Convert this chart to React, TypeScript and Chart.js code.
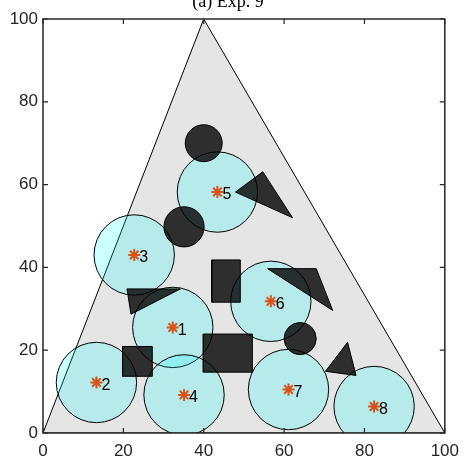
import React, { useEffect, useRef } from "react";
import { Chart, registerables } from "chart.js";

Chart.register(...registerables);

// ---- data ----
const TITLE = "(a) Exp. 9";
const X_TICKS = [0, 20, 40, 60, 80, 100];
const Y_TICKS = [0, 20, 40, 60, 80, 100];

const REGION_X = [0, 100, 40, 0];
const REGION_Y = [0, 0, 100, 0];

const AGENT_IDS = ["1", "2", "3", "4", "5", "6", "7", "8"];
const AGENT_X = [32.3, 13.3, 22.7, 35.1, 43.4, 56.7, 61.1, 82.4];
const AGENT_Y = [25.5, 12.2, 43.0, 9.2, 58.2, 31.8, 10.5, 6.4];
const AGENT_R = [10, 10, 10, 10, 10, 10, 10, 10];

const OBS_CIRCLE_X = [40.0, 35.1, 64.0];
const OBS_CIRCLE_Y = [70.0, 49.8, 22.8];
const OBS_CIRCLE_R = [4.6, 5.0, 4.0];

const RECT_A_X = [42.0, 49.1, 49.1, 42.0, 42.0];
const RECT_A_Y = [31.6, 31.6, 41.8, 41.8, 31.6];
const RECT_B_X = [39.9, 52.1, 52.1, 39.9, 39.9];
const RECT_B_Y = [14.7, 14.7, 23.9, 23.9, 14.7];
const RECT_C_X = [19.8, 27.2, 27.2, 19.8, 19.8];
const RECT_C_Y = [13.7, 13.7, 20.9, 20.9, 13.7];

const TRI_A_X = [47.9, 54.7, 62.1, 47.9];
const TRI_A_Y = [58.2, 63.1, 52.0, 58.2];
const TRI_B_X = [55.9, 68.0, 72.1, 55.9];
const TRI_B_Y = [39.7, 39.7, 29.6, 39.7];
const TRI_C_X = [20.9, 34.2, 21.9, 20.9];
const TRI_C_Y = [34.8, 34.8, 28.7, 34.8];
const TRI_D_X = [70.3, 75.8, 77.9, 70.3];
const TRI_D_Y = [14.9, 21.9, 13.9, 14.9];

// ---- styles ----
const AXIS_COLOR = "#262626";
const REGION_FILL = "#e5e5e5";
const AGENT_FILL = "rgba(0,255,255,0.2)";
const OBS_FILL = "rgba(0,0,0,0.8)";
const STAR_COLOR = "#D95319";

const pts = (xs: number[], ys: number[]) => xs.map((x, i) => ({ x, y: ys[i] }));

const polygon = (xs: number[], ys: number[], fillColor: string, order: number) => ({
  type: "line" as const,
  data: pts(xs, ys),
  fill: "shape",
  backgroundColor: fillColor,
  borderColor: "#000",
  borderWidth: 1,
  borderJoinStyle: "miter",
  pointRadius: 0,
  tension: 0,
  order,
  clip: 0,
});

const framePlugin = {
  id: "frame",
  afterDraw(chart: any) {
    const { ctx, chartArea: a, scales } = chart;
    ctx.save();
    ctx.strokeStyle = AXIS_COLOR;
    ctx.lineWidth = 1.5;
    ctx.strokeRect(a.left, a.top, a.right - a.left, a.bottom - a.top);
    const tl = 5;
    ctx.lineWidth = 1.2;
    ctx.beginPath();
    scales.x.ticks.forEach((t: any) => {
      const px = scales.x.getPixelForValue(t.value);
      ctx.moveTo(px, a.bottom);
      ctx.lineTo(px, a.bottom - tl);
      ctx.moveTo(px, a.top);
      ctx.lineTo(px, a.top + tl);
    });
    scales.y.ticks.forEach((t: any) => {
      const py = scales.y.getPixelForValue(t.value);
      ctx.moveTo(a.left, py);
      ctx.lineTo(a.left + tl, py);
      ctx.moveTo(a.right, py);
      ctx.lineTo(a.right - tl, py);
    });
    ctx.stroke();
    ctx.fillStyle = "#000";
    ctx.font = '18px "Liberation Serif", "Times New Roman", serif';
    ctx.textAlign = "center";
    ctx.textBaseline = "alphabetic";
    ctx.fillText(TITLE, 228, 7);
    ctx.restore();
  },
};

const labelPlugin = {
  id: "agentLabels",
  afterDatasetsDraw(chart: any) {
    const { ctx, scales } = chart;
    ctx.save();
    ctx.fillStyle = "#000";
    ctx.font = '16px "Liberation Sans", Arial, sans-serif';
    ctx.textAlign = "left";
    ctx.textBaseline = "middle";
    AGENT_IDS.forEach((id, i) => {
      const px = scales.x.getPixelForValue(AGENT_X[i]);
      const py = scales.y.getPixelForValue(AGENT_Y[i]);
      ctx.fillText(id, px + 5, py + 3);
    });
    ctx.restore();
  },
};

export default function App() {
  const ref = useRef<HTMLCanvasElement | null>(null);

  useEffect(() => {
    if (!ref.current) return;
    const tickFont = { family: '"Liberation Sans", Arial, sans-serif', size: 17 };
    const chart = new Chart(ref.current, {
      type: "scatter",
      data: {
        datasets: [
          {
            type: "scatter",
            data: pts(AGENT_X, AGENT_Y),
            pointStyle: "star",
            pointRadius: 6,
            borderWidth: 2,
            borderColor: STAR_COLOR,
            backgroundColor: STAR_COLOR,
            order: 0,
            clip: 0,
          } as any,
          {
            type: "bubble",
            data: pts(OBS_CIRCLE_X, OBS_CIRCLE_Y).map((p) => ({ ...p, r: 1 })),
            backgroundColor: OBS_FILL,
            borderColor: "#000",
            borderWidth: 1,
            hoverRadius: 0,
            order: 1,
            clip: 0,
          } as any,
          polygon(RECT_A_X, RECT_A_Y, OBS_FILL, 1),
          polygon(RECT_B_X, RECT_B_Y, OBS_FILL, 1),
          polygon(RECT_C_X, RECT_C_Y, OBS_FILL, 1),
          polygon(TRI_A_X, TRI_A_Y, OBS_FILL, 1),
          polygon(TRI_B_X, TRI_B_Y, OBS_FILL, 1),
          polygon(TRI_C_X, TRI_C_Y, OBS_FILL, 1),
          polygon(TRI_D_X, TRI_D_Y, OBS_FILL, 1),
          {
            type: "bubble",
            data: pts(AGENT_X, AGENT_Y).map((p) => ({ ...p, r: 1 })),
            backgroundColor: AGENT_FILL,
            borderColor: "#000",
            borderWidth: 1,
            hoverRadius: 0,
            order: 2,
            clip: 0,
          } as any,
          polygon(REGION_X, REGION_Y, REGION_FILL, 3),
        ] as any,
      },
      plugins: [framePlugin, labelPlugin],
      options: {
        responsive: false,
        animation: false,
        events: [],
        layout: { autoPadding: false, padding: { top: 19, right: 18, left: 0, bottom: 0 } },
        plugins: {
          legend: { display: false },
          tooltip: { enabled: false },
          title: { display: false },
        },
        scales: {
          x: {
            type: "linear",
            min: 0,
            max: 100,
            position: "bottom",
            afterBuildTicks: (s: any) => {
              s.ticks = X_TICKS.map((v) => ({ value: v }));
            },
            ticks: { color: AXIS_COLOR, font: tickFont, padding: 8, maxRotation: 0, autoSkip: false },
            grid: { display: false, drawTicks: false },
            border: { display: false },
            afterFit: (s: any) => {
              s.height = 29;
            },
          },
          y: {
            type: "linear",
            min: 0,
            max: 100,
            position: "left",
            afterBuildTicks: (s: any) => {
              s.ticks = Y_TICKS.map((v) => ({ value: v }));
            },
            ticks: { color: AXIS_COLOR, font: tickFont, padding: 5, autoSkip: false },
            grid: { display: false, drawTicks: false },
            border: { display: false },
            afterFit: (s: any) => {
              s.width = 43;
            },
          },
        },
      } as any,
    });

    // convert radii given in data units into pixel radii via the x scale
    const sx = chart.scales.x;
    const toPx = (rad: number) => Math.abs(sx.getPixelForValue(rad) - sx.getPixelForValue(0));
    const ds = chart.data.datasets as any[];
    ds[1].data = pts(OBS_CIRCLE_X, OBS_CIRCLE_Y).map((p, i) => ({ ...p, r: toPx(OBS_CIRCLE_R[i]) }));
    ds[9].data = pts(AGENT_X, AGENT_Y).map((p, i) => ({ ...p, r: toPx(AGENT_R[i]) }));
    chart.update("none");

    return () => chart.destroy();
  }, []);

  return (
    <div style={{ position: "fixed", left: 0, top: 0, width: 467, height: 462, background: "#fff" }}>
      <canvas ref={ref} width={467} height={462} style={{ width: 467, height: 462 }} />
    </div>
  );
}
